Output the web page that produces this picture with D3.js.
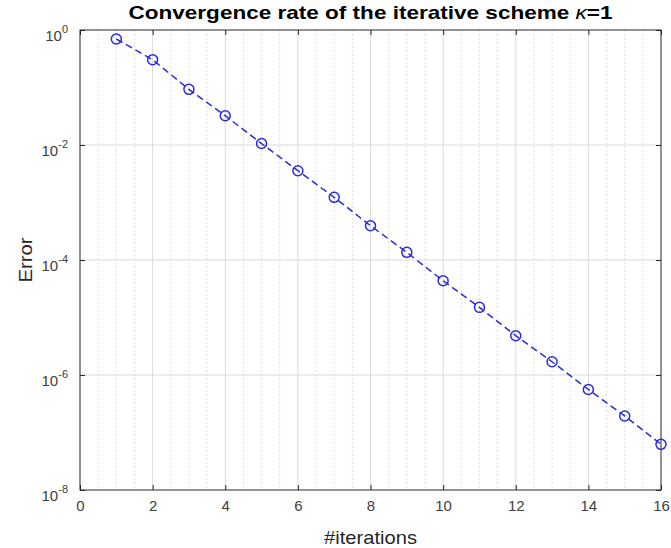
<!DOCTYPE html>
<meta charset="utf-8">
<style>
body { margin: 0; background: #fff; }
text { font-family: "Liberation Sans", Arial, sans-serif; }
.tick-label { fill: #404040; font-size: 15px; }
</style>
<svg width="671" height="548"></svg>
<script src="https://d3js.org/d3.v7.min.js"></script>
<script>

// values
var iterations = [1, 2, 3, 4, 5, 6, 7, 8, 9, 10, 11, 12, 13, 14, 15, 16];
var errors = [0.697, 0.304, 0.093, 0.0323, 0.0106, 3.57e-3, 1.23e-3, 3.95e-4,
              1.36e-4, 4.36e-5, 1.50e-5, 4.82e-6, 1.70e-6, 5.60e-7, 1.94e-7, 6.23e-8];
var xTicks = [0, 2, 4, 6, 8, 10, 12, 14, 16];
var xMinor = d3.range(0.5, 16, 0.5);
var yTickExps = [0, -2, -4, -6, -8];

var svg = d3.select("svg"),
    margin = {top: 30, right: 10, bottom: 58, left: 80},
    width = +svg.attr("width") - margin.left - margin.right,
    height = +svg.attr("height") - margin.top - margin.bottom;

var x = d3.scaleLinear().domain([0, 16]).range([0, width]),
    y = d3.scaleLog().domain([1e-8, 1]).range([height, 0]);

var g = svg.append("g")
    .attr("transform", "translate(" + margin.left + "," + margin.top + ")");

// minor x grid (dotted)
g.selectAll(".minor")
  .data(xMinor.filter(function(d) { return d % 2 !== 0; }))
  .enter().append("line")
    .attr("x1", function(d) { return x(d); })
    .attr("x2", function(d) { return x(d); })
    .attr("y1", 0).attr("y2", height)
    .attr("stroke", "#d4d4d4")
    .attr("stroke-dasharray", "1.5,2.5");

// major grid
g.selectAll(".gx")
  .data(xTicks.slice(1, -1))
  .enter().append("line")
    .attr("x1", function(d) { return x(d); })
    .attr("x2", function(d) { return x(d); })
    .attr("y1", 0).attr("y2", height)
    .attr("stroke", "#dadada");

g.selectAll(".gy")
  .data(yTickExps.slice(1, -1))
  .enter().append("line")
    .attr("x1", 0).attr("x2", width)
    .attr("y1", function(d) { return y(Math.pow(10, d)); })
    .attr("y2", function(d) { return y(Math.pow(10, d)); })
    .attr("stroke", "#dadada");

// axes (ticks inside, box)
var tl = 5;
g.append("g")
    .attr("transform", "translate(0," + height + ")")
    .call(d3.axisBottom(x).tickValues(xTicks).tickSize(-tl).tickPadding(10))
    .call(function(a) {
      a.select(".domain").remove();
      a.selectAll("line").attr("stroke", "#262626");
      a.selectAll("text").attr("class", "tick-label").attr("font-size", null).attr("font-family", null);
    });

g.append("g")
    .call(d3.axisTop(x).tickValues(xTicks).tickSize(-tl).tickFormat(""))
    .call(function(a) {
      a.select(".domain").remove();
      a.selectAll("line").attr("stroke", "#262626");
    });

var yVals = yTickExps.map(function(e) { return Math.pow(10, e); });

g.append("g")
    .call(d3.axisLeft(y).tickValues(yVals).tickSize(-tl).tickFormat(""))
    .call(function(a) {
      a.select(".domain").remove();
      a.selectAll("line").attr("stroke", "#262626");
    });

g.append("g")
    .attr("transform", "translate(" + width + ",0)")
    .call(d3.axisRight(y).tickValues(yVals).tickSize(-tl).tickFormat(""))
    .call(function(a) {
      a.select(".domain").remove();
      a.selectAll("line").attr("stroke", "#262626");
    });

// y labels as 10^n
var yl = g.selectAll(".ylab")
  .data(yTickExps)
  .enter().append("text")
    .attr("class", "tick-label")
    .attr("x", -12)
    .attr("y", function(d) { return y(Math.pow(10, d)) + 11; })
    .attr("text-anchor", "end");
yl.append("tspan").text("10");
yl.append("tspan")
    .attr("dy", -8)
    .attr("font-size", "11px")
    .text(function(d) { return String(d); });

g.append("rect")
    .attr("width", width).attr("height", height)
    .attr("fill", "none")
    .attr("stroke", "#262626")
    .attr("stroke-width", 1);

// data
var line = d3.line()
    .x(function(d, i) { return x(iterations[i]); })
    .y(function(d) { return y(d); });

g.append("path")
    .datum(errors)
    .attr("fill", "none")
    .attr("stroke", "#2a2ae0")
    .attr("stroke-width", 1.5)
    .attr("stroke-dasharray", "7,4")
    .attr("d", line);

g.selectAll(".pt")
  .data(errors)
  .enter().append("circle")
    .attr("cx", function(d, i) { return x(iterations[i]); })
    .attr("cy", function(d) { return y(d); })
    .attr("r", 5)
    .attr("fill", "none")
    .attr("stroke", "#2a2ae0")
    .attr("stroke-width", 1.5);

// labels
svg.append("text")
    .attr("x", margin.left + width / 2)
    .attr("y", 544)
    .attr("text-anchor", "middle")
    .attr("fill", "#262626")
    .attr("font-size", "19px")
    .attr("textLength", 93)
    .attr("lengthAdjust", "spacingAndGlyphs")
    .text("#iterations");

svg.append("text")
    .attr("transform", "translate(32," + (margin.top + height / 2) + ") rotate(-90)")
    .attr("text-anchor", "middle")
    .attr("fill", "#262626")
    .attr("font-size", "19px")
    .attr("textLength", 45)
    .attr("lengthAdjust", "spacingAndGlyphs")
    .text("Error");

var title = svg.append("text")
    .attr("x", margin.left + width / 2)
    .attr("y", 19)
    .attr("text-anchor", "middle")
    .attr("fill", "#000")
    .attr("font-size", "19px")
    .attr("font-weight", "bold")
    .attr("textLength", 484)
    .attr("lengthAdjust", "spacingAndGlyphs");
title.append("tspan").text("Convergence rate of the iterative scheme ");
title.append("tspan").attr("font-style", "italic").attr("font-weight", "normal").text("\u03ba");
title.append("tspan").text("=1");

</script>
